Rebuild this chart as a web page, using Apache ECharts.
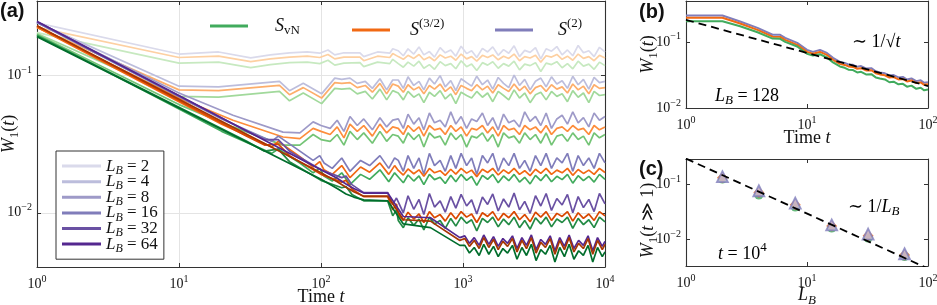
<!DOCTYPE html>
<html><head><meta charset="utf-8">
<script src="https://cdn.jsdelivr.net/npm/echarts@6/dist/echarts.min.js"></script>
<style>html,body{margin:0;padding:0;background:#fff}#c{width:937px;height:305px}</style>
</head><body><div id="c"></div><script>
// ---------------- DATA ----------------
const LB_NAMES = ['LB2','LB4','LB8','LB16','LB32','LB64'];
const T_LATE = [350,380,410,450,490,530,580,630,690,750,820,890,970,1060,1150,1250,1370,1490,1620,1770,1930,2100,2290,2500,2720,2970,3240,3530,3850,4200,4580,4990,5440,5930,6470,7050,7690,8380,9140,10000];

// L_B = 2
const t_LB2 = [1,10,19,32,44,60,80,98,112,125,145,188,200,250,305,320, ...T_LATE];
const S2_LB2 = [0.239,0.142,0.147,0.133,0.140,0.145,0.147,0.144,0.152,0.140,0.145,0.145,0.136,0.147,0.144,0.155,
  0.150,0.138,0.155,0.142,0.160,0.140,0.148,0.135,0.158,0.145,0.152,0.137,0.162,0.143,0.150,0.134,0.156,0.147,0.160,0.139,
  0.153,0.144,0.163,0.136,0.151,0.146,0.158,0.131,0.155,0.149,0.161,0.140,0.152,0.138,0.164,0.145,0.150,0.136,0.159,0.147];
const S32_LB2 = [0.222,0.134,0.137,0.125,0.131,0.135,0.137,0.134,0.141,0.131,0.135,0.135,0.127,0.137,0.134,0.143,
  0.136,0.130,0.139,0.132,0.141,0.129,0.135,0.127,0.140,0.133,0.137,0.128,0.142,0.131,0.136,0.126,0.139,0.134,0.140,0.129,
  0.137,0.132,0.142,0.127,0.136,0.133,0.139,0.124,0.138,0.135,0.141,0.130,0.137,0.128,0.142,0.132,0.136,0.127,0.139,0.133];
const SvN_LB2 = [0.203,0.122,0.124,0.113,0.119,0.123,0.124,0.121,0.128,0.118,0.122,0.123,0.115,0.124,0.121,0.130,
  0.121,0.114,0.124,0.116,0.126,0.112,0.119,0.110,0.125,0.117,0.121,0.111,0.127,0.115,0.120,0.108,0.123,0.118,0.125,0.112,
  0.121,0.116,0.126,0.109,0.120,0.117,0.123,0.106,0.122,0.119,0.125,0.113,0.121,0.111,0.126,0.116,0.120,0.110,0.124,0.117];

// L_B = 4
const t_LB4 = [1,10,19,51,60,75,101,125,140,160,180,205,230,260,290,320, ...T_LATE];
const S2_LB4 = [0.240,0.083,0.082,0.090,0.077,0.087,0.073,0.095,0.093,0.095,0.087,0.090,0.080,0.094,0.078,0.092,
  0.092,0.080,0.097,0.084,0.090,0.078,0.095,0.086,0.099,0.082,0.091,0.077,0.094,0.088,0.083,0.098,0.085,0.092,0.079,0.096,
  0.087,0.081,0.100,0.084,0.093,0.078,0.090,0.095,0.082,0.097,0.086,0.091,0.080,0.098,0.085,0.093,0.079,0.096,0.088,0.090];
const S32_LB4 = [0.222,0.078,0.077,0.084,0.072,0.081,0.068,0.088,0.087,0.088,0.081,0.084,0.075,0.087,0.073,0.086,
  0.083,0.075,0.085,0.078,0.082,0.073,0.084,0.079,0.086,0.076,0.082,0.072,0.084,0.080,0.077,0.085,0.078,0.083,0.074,0.085,
  0.080,0.076,0.086,0.077,0.083,0.073,0.081,0.084,0.076,0.085,0.079,0.082,0.074,0.086,0.078,0.083,0.073,0.085,0.080,0.081];
const SvN_LB4 = [0.200,0.070,0.069,0.076,0.065,0.074,0.062,0.080,0.079,0.080,0.073,0.076,0.067,0.079,0.066,0.077,
  0.074,0.066,0.076,0.069,0.073,0.063,0.075,0.070,0.077,0.067,0.073,0.062,0.075,0.071,0.068,0.076,0.069,0.074,0.064,0.076,
  0.071,0.066,0.078,0.068,0.074,0.063,0.072,0.075,0.066,0.076,0.070,0.073,0.064,0.077,0.069,0.074,0.063,0.076,0.071,0.072];

// L_B = 8
const t_LB8 = [1,10,24,54,71,88,100,116,130,145,160,180,200,230,260,290,320, ...T_LATE];
const S2_LB8 = [0.241,0.074,0.051,0.0385,0.038,0.0457,0.043,0.041,0.047,0.039,0.050,0.043,0.048,0.040,0.049,0.042,0.047,
  0.048,0.041,0.052,0.044,0.049,0.040,0.053,0.045,0.047,0.042,0.054,0.044,0.050,0.041,0.048,0.046,0.053,0.043,0.049,0.040,
  0.052,0.045,0.047,0.042,0.054,0.046,0.050,0.043,0.053,0.041,0.048,0.051,0.044,0.054,0.045,0.049,0.042,0.053,0.047,0.050];
const S32_LB8 = [0.222,0.068,0.047,0.0355,0.0345,0.041,0.039,0.037,0.042,0.035,0.044,0.039,0.043,0.036,0.044,0.038,0.042,
  0.041,0.037,0.043,0.039,0.042,0.036,0.043,0.040,0.041,0.037,0.043,0.039,0.042,0.036,0.041,0.040,0.043,0.038,0.042,0.036,
  0.043,0.040,0.041,0.037,0.043,0.040,0.042,0.038,0.043,0.037,0.041,0.042,0.039,0.043,0.040,0.041,0.037,0.043,0.040,0.042];
const SvN_LB8 = [0.197,0.061,0.042,0.031,0.031,0.037,0.034,0.033,0.037,0.031,0.039,0.034,0.038,0.032,0.039,0.033,0.037,
  0.036,0.032,0.038,0.034,0.037,0.030,0.038,0.035,0.036,0.031,0.038,0.034,0.037,0.030,0.036,0.035,0.038,0.033,0.037,0.030,
  0.038,0.035,0.036,0.032,0.038,0.034,0.037,0.032,0.038,0.031,0.036,0.037,0.033,0.038,0.034,0.036,0.031,0.038,0.035,0.037];

// L_B = 16
const t_LB16 = [1,20,45,50,71,88,98,105,120,140,160,190,220,260,300,330, ...T_LATE];
const S2_LB16 = [0.241,0.048,0.033,0.036,0.028,0.024,0.026,0.023,0.021,0.025,0.020,0.024,0.022,0.026,0.021,0.025,
  0.024,0.020,0.026,0.021,0.025,0.019,0.027,0.022,0.024,0.020,0.026,0.021,0.027,0.022,0.025,0.019,0.026,0.023,0.027,0.020,
  0.025,0.022,0.027,0.021,0.024,0.020,0.026,0.022,0.027,0.021,0.025,0.023,0.027,0.020,0.026,0.022,0.025,0.021,0.027,0.023];
const S32_LB16 = [0.222,0.044,0.030,0.033,0.0255,0.0215,0.0235,0.0205,0.019,0.022,0.018,0.0215,0.0197,0.023,0.019,0.022,
  0.0203,0.0188,0.0208,0.0192,0.0205,0.0184,0.021,0.0195,0.0202,0.0187,0.0207,0.0191,0.021,0.0194,0.0204,0.0183,0.0207,0.0196,0.021,0.0188,
  0.0205,0.0193,0.021,0.019,0.0202,0.0186,0.0207,0.0193,0.021,0.019,0.0204,0.0195,0.021,0.0187,0.0206,0.0193,0.0204,0.019,0.021,0.0196];
const SvN_LB16 = [0.195,0.039,0.027,0.029,0.023,0.0195,0.021,0.0185,0.0170,0.0195,0.0160,0.0190,0.0175,0.0205,0.0168,0.0195,
  0.0182,0.0165,0.0188,0.0170,0.0185,0.0160,0.0190,0.0174,0.0181,0.0163,0.0187,0.0168,0.0190,0.0172,0.0184,0.0158,0.0187,0.0175,0.0190,0.0165,
  0.0185,0.0171,0.0190,0.0167,0.0181,0.0162,0.0187,0.0171,0.0190,0.0168,0.0184,0.0174,0.0190,0.0164,0.0186,0.0171,0.0184,0.0167,0.0190,0.0175];

// L_B = 32
const t_LB32 = [1,30,40,50,60,100,140,150,165,200,295,320,340, ...T_LATE];
const S2_LB32 = [0.245,0.039,0.034,0.034,0.028,0.0205,0.018,0.0185,0.016,0.0140,0.0140,0.0115,0.0128,
  0.0120,0.0100,0.0133,0.0106,0.0125,0.0097,0.0138,0.0110,0.0122,0.0101,0.0131,0.0108,0.0136,0.0112,0.0124,0.0098,0.0130,0.0115,0.0137,0.0103,
  0.0126,0.0110,0.0139,0.0105,0.0121,0.0099,0.0133,0.0112,0.0138,0.0104,0.0127,0.0114,0.0136,0.0100,0.0131,0.0109,0.0125,0.0102,0.0138,0.0116];
const S32_LB32 = [0.228,0.036,0.031,0.0315,0.026,0.019,0.0167,0.0172,0.0149,0.0131,0.0131,0.0105,0.0116,
  0.0097,0.0088,0.0101,0.0090,0.0098,0.0085,0.0102,0.0092,0.0097,0.0087,0.0100,0.0090,0.0102,0.0093,0.0098,0.0085,0.0100,0.0094,0.0102,0.0088,
  0.0099,0.0092,0.0102,0.0089,0.0097,0.0086,0.0101,0.0093,0.0102,0.0088,0.0099,0.0094,0.0102,0.0087,0.0100,0.0091,0.0098,0.0088,0.0102,0.0095];
const SvN_LB32 = [0.192,0.033,0.028,0.029,0.0235,0.0172,0.0152,0.0155,0.0136,0.0122,0.0122,0.0095,0.0105,
  0.0088,0.0078,0.0092,0.0081,0.0090,0.0075,0.0093,0.0083,0.0088,0.0077,0.0091,0.0080,0.0093,0.0084,0.0089,0.0074,0.0091,0.0085,0.0093,0.0079,
  0.0090,0.0082,0.0093,0.0078,0.0088,0.0076,0.0092,0.0083,0.0093,0.0079,0.0090,0.0085,0.0093,0.0077,0.0091,0.0082,0.0089,0.0078,0.0093,0.0086];

// L_B = 64
const t_LB64 = [1,100,130,150,170,200,295,380,590,950,
  1030,1110,1200,1300,1400,1520,1640,1770,1910,2060,2230,2400,2600,2800,3030,3270,3530,3810,4110,4440,4800,5180,5590,6040,6520,7040,7600,8200,8860,9570,10000];
const S2_LB64 = [0.245,0.0205,0.0178,0.0162,0.0150,0.0139,0.0139,0.0094,0.0092,0.0066,
  0.0068,0.0060,0.0066,0.0058,0.0069,0.0059,0.0067,0.0057,0.0065,0.0060,0.0068,0.0055,0.0066,0.0058,0.0069,0.0054,0.0064,0.0059,0.0068,0.0053,
  0.0066,0.0057,0.0069,0.0055,0.0063,0.0058,0.0068,0.0053,0.0066,0.0057,0.0062];
const S32_LB64 = [0.228,0.0195,0.0168,0.0153,0.0142,0.0132,0.0132,0.0089,0.0087,0.0063,
  0.0065,0.0057,0.0063,0.0055,0.0066,0.0056,0.0064,0.0054,0.0062,0.0057,0.0065,0.0052,0.0063,0.0055,0.0066,0.0051,0.0061,0.0056,0.0065,0.0050,
  0.0063,0.0054,0.0066,0.0052,0.0060,0.0055,0.0065,0.0050,0.0063,0.0054,0.0059];
const SvN_LB64 = [0.190,0.0175,0.0150,0.0137,0.0130,0.0124,0.0122,0.0083,0.0078,0.0058,
  0.0058,0.0051,0.0056,0.0049,0.0059,0.0050,0.0057,0.0048,0.0055,0.0051,0.0058,0.0046,0.0056,0.0049,0.0059,0.0045,0.0054,0.0050,0.0058,0.0044,
  0.0056,0.0048,0.0059,0.0046,0.0053,0.0049,0.0058,0.0044,0.0056,0.0048,0.0052];

// Panel (b): L_B = 128
const t_B = [1,2,2.8,3.9,5.2,6.0,6.6,8.3,10,11.2,12.8,14.6,16.4,18.7,20.5,22,24,26,28,31,34,37,40,44,48,52,57,62,67,73,80,87,93,100];
const S2_B = [0.250,0.250,0.203,0.163,0.128,0.128,0.115,0.0966,0.0757,0.0706,0.0757,0.068,0.0573,0.0498,0.0480,0.0455,0.0449,0.0420,0.0430,0.0395,
  0.0400,0.0360,0.0345,0.0335,0.0310,0.0315,0.0290,0.0295,0.0270,0.0280,0.0255,0.0262,0.0240,0.0245];
const S32_B = [0.232,0.232,0.190,0.152,0.120,0.119,0.107,0.090,0.0705,0.066,0.0705,0.0635,0.0535,0.0465,0.0448,0.0425,0.0418,0.0392,0.0400,0.0368,
  0.0372,0.0336,0.0322,0.0312,0.0289,0.0294,0.0270,0.0275,0.0252,0.0261,0.0238,0.0244,0.0224,0.0228];
const SvN_B = [0.205,0.205,0.172,0.140,0.112,0.111,0.100,0.085,0.066,0.062,0.065,0.058,0.049,0.0425,0.0405,0.038,0.0375,0.0345,0.0352,0.032,
  0.0325,0.029,0.028,0.027,0.0245,0.025,0.0228,0.0232,0.021,0.0218,0.0195,0.0202,0.0185,0.019];
const GUIDE_B_T = [1,100];
const GUIDE_B_V = [0.215,0.0215];

// Panel (c): t = 1e4
const LB_C = [2,4,8,16,32,64];
const S2_C = [0.136,0.0755,0.045,0.018,0.0123,0.0054];
const S32_C = [0.130,0.070,0.042,0.0172,0.0115,0.0051];
const SvN_C = [0.123,0.063,0.038,0.0158,0.0104,0.0048];
const GUIDE_C_L = [1,100];
const GUIDE_C_V = [0.29,0.0029];

// ---------------- STYLE ----------------
const PURPLES = ['#dadaeb','#bcbddc','#9e9ac8','#807dba','#6a51a3','#54278f'];
const ORANGES = ['#fdd0a2','#fdae6b','#fd8d3c','#f16913','#d94801','#a63603'];
const GREENS  = ['#c7e9c0','#a1d99b','#74c476','#41ab5d','#238b45','#006d2c'];
const SERIF = '"Liberation Serif","DejaVu Serif",serif';
const INK = '#111';

function rich(size){
  const s = Math.round(size*0.7);
  return {
    n:{fontFamily:SERIF,fontSize:size,color:INK},
    i:{fontFamily:SERIF,fontSize:size,fontStyle:'italic',color:INK},
    sub:{fontFamily:SERIF,fontSize:s,color:INK,padding:[Math.round(size*0.55),0,0,0]},
    subi:{fontFamily:SERIF,fontSize:s,fontStyle:'italic',color:INK,padding:[Math.round(size*0.55),0,0,0]},
    sup:{fontFamily:SERIF,fontSize:s,color:INK,padding:[0,0,Math.round(size*0.7),0]}
  };
}
function pw(v){
  const l = Math.log10(v), e = Math.round(l);
  if (Math.abs(l-e) > 1e-6) return '';
  return '{n|10}{sup|' + (e<0 ? '\u2212'+(-e) : ''+e) + '}';
}
const tickRich = rich(14);
const AXLINE = {show:true, lineStyle:{color:'#333', width:1.1}};

function xAx(grid, min, max, pos, name, nameGap, split){
  return {
    type:'log', logBase:10, gridIndex:grid, min:min, max:max, position:pos,
    axisLine:AXLINE,
    axisTick:{show:true, inside:true, length:4, lineStyle:{color:'#333'}},
    axisLabel:{show:pos==='bottom', formatter:pw, rich:tickRich, margin:7},
    splitLine:{show:!!split, lineStyle:{color:'#e4e4e4', width:1}},
    minorTick:{show:false}, minorSplitLine:{show:false},
    name: pos==='bottom' ? name : '', nameLocation:'middle', nameGap:nameGap, nameMoveOverlap:false,
    nameTextStyle:{rich:rich(18)}
  };
}
function yAx(grid, min, max, pos, name, nameGap, split, namePad){
  return {
    type:'log', logBase:10, gridIndex:grid, min:min, max:max, position:pos,
    axisLine:AXLINE,
    axisTick:{show:true, inside:true, length:4, lineStyle:{color:'#333'}},
    axisLabel:{show:pos==='left', formatter:pw, rich:tickRich, margin:5},
    splitLine:{show:!!split, lineStyle:{color:'#e4e4e4', width:1}},
    minorTick:{show:false}, minorSplitLine:{show:false},
    name: pos==='left' ? name : '', nameLocation:'middle', nameGap:nameGap, nameRotate:90, nameMoveOverlap:false,
    nameTextStyle:{rich:rich(18), padding:namePad || 0}
  };
}
const pairs = (T, V) => T.map((t, k) => [t, V[k]]);

const aT = [t_LB2, t_LB4, t_LB8, t_LB16, t_LB32, t_LB64];
const aS2 = [S2_LB2, S2_LB4, S2_LB8, S2_LB16, S2_LB32, S2_LB64];
const aS32 = [S32_LB2, S32_LB4, S32_LB8, S32_LB16, S32_LB32, S32_LB64];
const aSvN = [SvN_LB2, SvN_LB4, SvN_LB8, SvN_LB16, SvN_LB32, SvN_LB64];

const series = [];
function line(name, data, color, xi, yi, w){
  return {type:'line', name:name, data:data, xAxisIndex:xi, yAxisIndex:yi, color:color,
    showSymbol:false, symbol:'none', lineStyle:{color:color, width:w||1.7}, silent:true, animation:false};
}
for (let k = 0; k < 6; k++){
  series.push(line(LB_NAMES[k], pairs(aT[k], aS2[k]), PURPLES[k], 0, 0));
  series.push(line('o'+LB_NAMES[k], pairs(aT[k], aS32[k]), ORANGES[k], 0, 0));
  series.push(line('g'+LB_NAMES[k], pairs(aT[k], aSvN[k]), GREENS[k], 0, 0));
}
// legend proxies
series.push(line('SvN', [], '#41ab5d', 0, 0));
series.push(line('S32', [], '#f16913', 0, 0));
series.push(line('S2', [], '#807dba', 0, 0));
// panel b
series.push(line('bS2', pairs(t_B, S2_B), '#807dba', 2, 2, 2));
series.push(line('bS32', pairs(t_B, S32_B), '#f16913', 2, 2, 2));
series.push(line('bSvN', pairs(t_B, SvN_B), '#41ab5d', 2, 2, 2));
series.push({type:'line', name:'bguide', data:pairs(GUIDE_B_T, GUIDE_B_V), xAxisIndex:2, yAxisIndex:2,
  showSymbol:false, symbol:'none', lineStyle:{color:'#000', width:1.8, type:[8,5]}, silent:true, animation:false});
// panel c
series.push({type:'line', name:'cguide', data:pairs(GUIDE_C_L, GUIDE_C_V), xAxisIndex:4, yAxisIndex:4,
  showSymbol:false, symbol:'none', lineStyle:{color:'#000', width:1.8, type:[8,5]}, silent:true, animation:false});
series.push({type:'scatter', name:'cSvN', data:pairs(LB_C, SvN_C), xAxisIndex:4, yAxisIndex:4, symbol:'circle', symbolSize:9,
  itemStyle:{color:'#41ab5d'}, silent:true, animation:false});
series.push({type:'scatter', name:'cS32', data:pairs(LB_C, S32_C), xAxisIndex:4, yAxisIndex:4, symbol:'diamond', symbolSize:11,
  itemStyle:{color:'#f16913'}, silent:true, animation:false});
series.push({type:'scatter', name:'cS2', data:pairs(LB_C, S2_C), xAxisIndex:4, yAxisIndex:4, symbol:'triangle', symbolSize:11,
  itemStyle:{color:'#c6c3e4', borderColor:'#807dba', borderWidth:1.8}, silent:true, animation:false});

function topLegend(name, left, text, pad){
  const r = rich(18);
  r.S = {fontFamily:SERIF, fontSize:18, fontStyle:'italic', color:INK, padding:[0,0,0,pad]};
  return {data:[name], left:left, top:17, padding:0, itemWidth:38, itemHeight:3, icon:'rect',
    selectedMode:false, formatter:() => text, textStyle:{rich:r}};
}
const lbRich = rich(17);
for (const key in lbRich) lbRich[key].lineHeight = 15;

const option = {
  animation:false,
  backgroundColor:'#fff',
  grid:[
    {left:37, top:1, width:568, height:266, outerBoundsMode:'none', containLabel:false},
    {left:686, top:1, width:242, height:107, outerBoundsMode:'none', containLabel:false},
    {left:686, top:159, width:242, height:107, outerBoundsMode:'none', containLabel:false}
  ],
  xAxis:[
    xAx(0, 1, 1e4, 'bottom', '{n|Time }{i|t}', 21, true),
    xAx(0, 1, 1e4, 'top', '', 0, false),
    xAx(1, 1, 100, 'bottom', '{n|Time }{i|t}', 21, false),
    xAx(1, 1, 100, 'top', '', 0, false),
    xAx(2, 1, 100, 'bottom', '{i|L}{subi|B}', 18, false),
    xAx(2, 1, 100, 'top', '', 0, false)
  ],
  yAxis:[
    yAx(0, 0.00404, 0.3446, 'left', '{i|W}{sub|1}{n|(}{i|t}{n|)}', 16, true),
    yAx(0, 0.00404, 0.3446, 'right', '', 0, false),
    yAx(1, 0.01, 0.415, 'left', '{i|W}{sub|1}{n|(}{i|t}{n|)}', 26, false),
    yAx(1, 0.01, 0.415, 'right', '', 0, false),
    yAx(2, 0.00323, 0.285, 'left', '{i|W}{sub|1}{n|(}{i|t}{n| \u226b 1)}', 26, false, [0,16,0,0]),
    yAx(2, 0.00323, 0.285, 'right', '', 0, false)
  ],
  legend:[
    {data:LB_NAMES, orient:'vertical', left:56, top:151, padding:[4.6,6,4.6,6], itemGap:-5.4,
      itemWidth:39, itemHeight:3, icon:'rect', selectedMode:false,
      borderColor:'#333', borderWidth:1, backgroundColor:'#fff',
      formatter:(n) => '{i|L}{subi|B}{n| = ' + n.slice(2) + '}', textStyle:{rich:lbRich}},
    topLegend('SvN', 210, '{S|S}{sub|vN}', 22),
    topLegend('S32', 352, '{S|S}{sup|(3/2)}', 15),
    topLegend('S2', 495, '{S|S}{sup|(2)}', 20)
  ],
  graphic:[
    {type:'text', left:0, top:1, style:{text:'(a)', font:'bold 20px "Liberation Sans", Arial, sans-serif', fill:'#111'}},
    {type:'text', left:639, top:2, style:{text:'(b)', font:'bold 20px "Liberation Sans", Arial, sans-serif', fill:'#111'}},
    {type:'text', left:639, top:159, style:{text:'(c)', font:'bold 20px "Liberation Sans", Arial, sans-serif', fill:'#111'}},
    {type:'text', left:852, top:33, style:{text:'{n|\u223c 1/\u221a}{i|t}', rich:rich(18)}},
    {type:'text', left:715, top:87, style:{text:'{i|L}{subi|B}{n| = 128}', rich:rich(18)}},
    {type:'text', left:848, top:198, style:{text:'{n|\u223c 1/}{i|L}{subi|B}', rich:rich(18)}},
    {type:'text', left:718, top:241, style:{text:'{i|t}{n| = 10}{sup|4}', rich:rich(18)}}
  ],
  series:series
};
const chart = echarts.init(document.getElementById('c'), null, {renderer:'canvas'});
chart.setOption(option);
</script></body></html>
